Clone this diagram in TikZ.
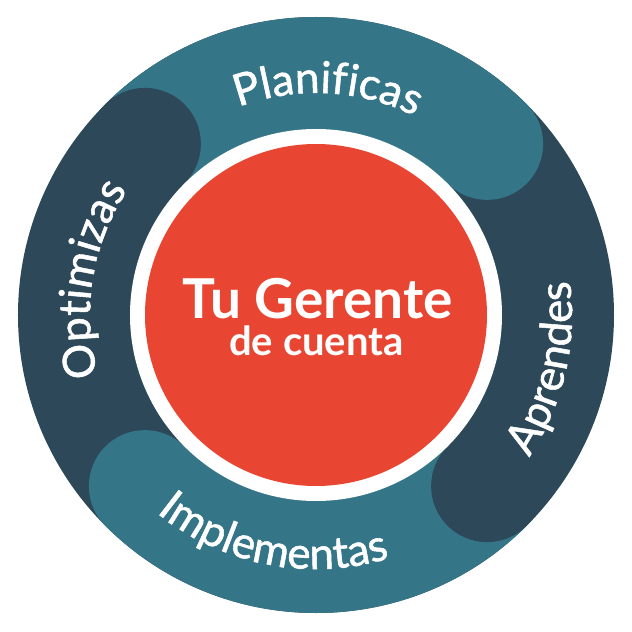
\documentclass[tikz,border=0pt]{standalone}
\usepackage{fontspec}
\setmainfont{Lato}
\newfontfamily\ringfont{Lato}[FakeBold=1.2]
\usetikzlibrary{decorations.text}
\definecolor{ringteal}{HTML}{357588}
\definecolor{ringdark}{HTML}{2D4959}
\definecolor{hubred}{HTML}{E84632}
\tikzset{
  steplabel/.style={decorate,decoration={text along path,text align=center,
      text={|\ringfont\color{white}\fontsize{44}{48}\selectfont|#1}}},
  endcap/.style={fill=#1,draw=none}
}

\begin{document}
\begin{tikzpicture}[x=1pt,y=1pt]
          \fill[white] (-316,-317) rectangle (316,315);
          \useasboundingbox (-316,-317) rectangle (316,315);
          \fill[ringdark] (0,0) circle (298);
          \fill[ringteal] (0,0) -- (45:298) arc[start angle=45,end angle=135,radius=298] -- cycle;
          \fill[ringteal] (0,0) -- (225:298) arc[start angle=225,end angle=315,radius=298] -- cycle;
          \fill[endcap=ringteal] (45:242) circle (56);
          \fill[endcap=ringdark] (135:242) circle (56);
          \fill[endcap=ringteal] (225:242) circle (56);
          \fill[endcap=ringdark] (315:242) circle (56);
          \fill[white] (0,0) circle (186);
          \fill[hubred] (0,0) circle (171);
          \path[steplabel=Planificas] (147:222) arc[start angle=147,end angle=27,radius=222];
          \path[steplabel=Aprendes] (-73:256) arc[start angle=-73,end angle=47,radius=256];
          \path[steplabel=Implementas] (199:254) arc[start angle=199,end angle=319,radius=254];
          \path[steplabel=Optimizas] (231:226) arc[start angle=231,end angle=111,radius=226];
          \node[anchor=base,text=white,font=\bfseries\fontsize{55}{60}\selectfont] (title) at (1.5,-3) {Tu Gerente};
          \node[anchor=base,text=white,font=\bfseries\fontsize{40}{44}\selectfont] (subtitle) at (0.5,-40) {de cuenta};
        \end{tikzpicture}
\end{document}
